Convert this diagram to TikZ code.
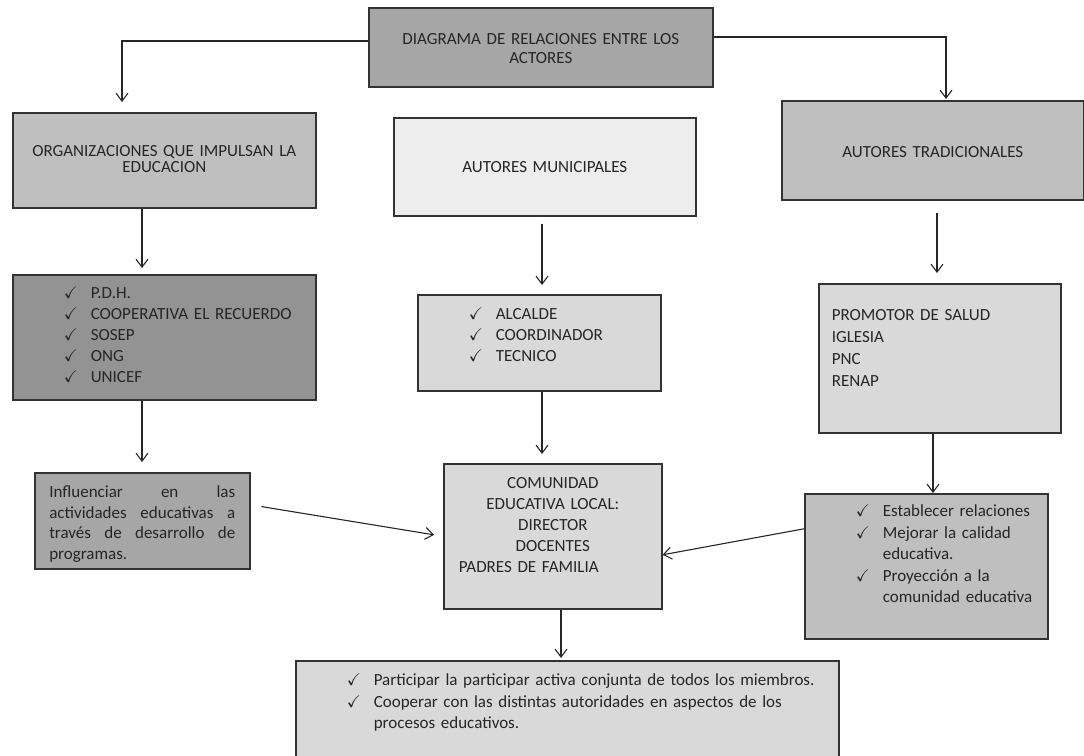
\documentclass[tikz,border=0pt]{standalone}
\usepackage{xcolor}
\usepackage{amsmath, amssymb}
\usepackage{tikz}
\usepackage{fontspec}
\setmainfont{Carlito}
\usetikzlibrary{arrows.meta}

\definecolor{grisTitulo}{HTML}{A6A6A6}
\definecolor{grisMedio}{HTML}{BFBFBF}
\definecolor{grisClaro}{HTML}{D9D9D9}
\definecolor{grisPalido}{HTML}{EDEDED}
\definecolor{grisOscuro}{HTML}{939393}

\tikzset{
	caja/.style={draw=black!80, line width=1.6pt, anchor=north west, inner sep=0pt, text=black!85, font=\fontsize{17}{21}\selectfont},
	flecha/.style={line width=1.1pt, draw=black!85, -{Straight Barb[length=8pt,width=12pt]}},
}

\begin{document}
\begin{tikzpicture}[x=1pt,y=-1pt]
	\newcommand\chq{\hspace*{51pt}\makebox[27pt][l]{$\checkmark$}}
	\newcommand\sng{\hspace*{78pt}}
	\newcommand\jst[1]{\leavevmode\hbox to 186pt{\spaceskip=.25em plus 1fil\relax #1}}
	\useasboundingbox (0,0) rectangle (1084,755);

	\node[caja, fill=grisTitulo, align=center, text width=344pt, text height=36.5pt, text depth=42.5pt, font=\fontsize{17}{19}\selectfont] (titulo) at (368,7) {DIAGRAMA DE RELACIONES ENTRE LOS\\ACTORES};

	\node[caja, fill=grisMedio, align=center, text width=303pt, text height=43.5pt, text depth=51.5pt, font=\fontsize{17}{16}\selectfont] (orgs) at (12,112) {ORGANIZACIONES QUE IMPULSAN LA\\EDUCACION};
	\node[caja, fill=grisPalido, align=center, text width=302pt, text height=54.5pt, text depth=43.5pt] (muni) at (393,117) {AUTORES MUNICIPALES};
	\node[caja, fill=grisMedio, align=center, text width=302pt, text height=56.5pt, text depth=42.5pt] (trad) at (781,100) {AUTORES TRADICIONALES};

	% listas
	\node[caja, fill=grisOscuro, align=left, text width=303pt, text height=23.5pt, text depth=101.5pt] (orglist) at (12,274) {\chq P.D.H.\\\chq COOPERATIVA EL RECUERDO\\\chq SOSEP\\\chq ONG\\\chq UNICEF};
	\node[caja, fill=grisClaro, align=left, text width=243pt, text height=24.5pt, text depth=71.5pt] (munilist) at (417,294) {\chq ALCALDE\\\chq COORDINADOR\\\chq TECNICO};
	\node[caja, fill=grisClaro, align=left, inner xsep=13pt, text width=216pt, text height=36.5pt, text depth=112.5pt, font=\fontsize{17}{22}\selectfont] (tradlist) at (818,283) {PROMOTOR DE SALUD\\IGLESIA\\PNC\\RENAP};

	\node[caja, fill=grisTitulo, align=left, inner xsep=14.5pt, text width=186pt, text height=25pt, text depth=71pt, font=\fontsize{17}{20.5}\selectfont] (influ) at (34,472) {\jst{Influenciar en las}\\\jst{actividades educativas a}\\\jst{través de desarrollo de}\\programas.};
	\node[caja, fill=grisClaro, align=center, text width=218pt, text height=24.5pt, text depth=120.5pt] (comu) at (443,463) {COMUNIDAD\\EDUCATIVA LOCAL:\\DIRECTOR\\DOCENTES\\PADRES DE FAMILIA\hspace*{48pt}\null};
	\node[caja, fill=grisMedio, align=left, text width=243pt, text height=23pt, text depth=122pt, font=\fontsize{17}{21.5}\selectfont] (tradobj) at (804,493) {\chq Establecer relaciones\\\chq Mejorar la calidad\\\sng educativa.\\\chq Proyección a la\\\sng comunidad educativa};

	\node[caja, fill=grisClaro, align=left, text width=543pt, text height=25pt, text depth=72pt, font=\fontsize{17}{21.5}\selectfont] (fin) at (295,660) {\chq Participar la participar activa conjunta de todos los miembros.\\\chq Cooperar con las distintas autoridades en aspectos de los\\\sng procesos educativos.};

	% conectores
	\coordinate (cL) at (122,41);
	\coordinate (cR) at (946,37);
	\coordinate (xa) at (142,0);
	\coordinate (xb) at (542,0);
	\coordinate (xc) at (937,0);
	\coordinate (xd) at (933,0);
	\coordinate (xe) at (561,0);

	\draw[flecha, shorten >=10pt] (titulo.west |- cL) -| (orgs.north -| cL);
	\draw[flecha, shorten >=1pt] (titulo.east |- cR) -| (trad.north -| cR);
	\draw[flecha, shorten >=6pt] (orgs.south -| xa) -- (orglist.north -| xa);
	\draw[flecha, shorten <=7pt, shorten >=9pt] (muni.south -| xb) -- (munilist.north -| xb);
	\draw[flecha, shorten <=12pt, shorten >=10pt] (trad.south -| xc) -- (tradlist.north -| xc);
	\draw[flecha, shorten >=10pt] (orglist.south -| xa) -- (influ.north -| xa);
	\draw[flecha, shorten >=9pt] (munilist.south -| xb) -- (comu.north -| xb);
	\draw[flecha] (tradlist.south -| xd) -- (tradobj.north -| xd);
	\draw[flecha, shorten >=2pt] (comu.south -| xe) -- (fin.north -| xe);
	\draw[flecha, shorten <=11pt, shorten >=9pt] ([yshift=16pt]influ.east) -- (comu.west);
	\draw[flecha] ([yshift=37.5pt]tradobj.west) -- ([yshift=-18.5pt]comu.east);
\end{tikzpicture}
\end{document}
